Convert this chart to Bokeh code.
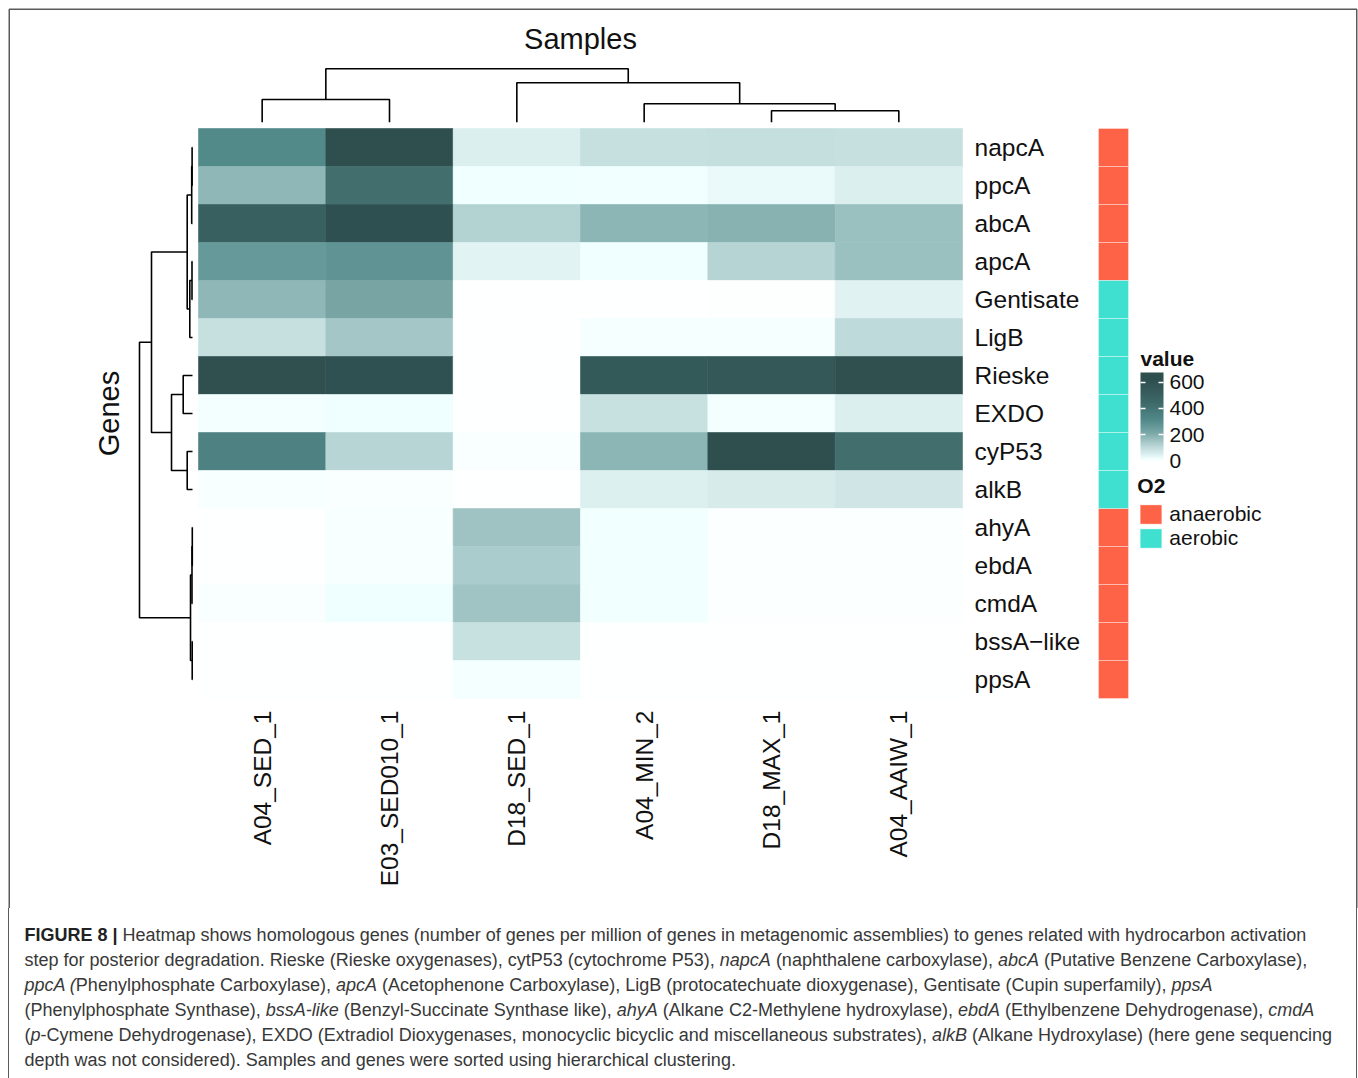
import numpy as np
from bokeh.plotting import figure
from bokeh.models import (Range1d, LinearColorMapper, ColorBar, FixedTicker,
                          Legend, LegendItem, ColumnDataSource, Div, BoxAnnotation)
from bokeh.layouts import column
from bokeh.core.properties import value
from bokeh.embed import file_html
from bokeh.resources import INLINE

# ---------------- data ----------------
samples = ["A04_SED_1", "E03_SED010_1", "D18_SED_1", "A04_MIN_2", "D18_MAX_1", "A04_AAIW_1"]
genes = ["napcA", "ppcA", "abcA", "apcA", "Gentisate", "LigB", "Rieske", "EXDO",
         "cyP53", "alkB", "ahyA", "ebdA", "cmdA", "bssA\u2212like", "ppsA"]
o2 = ["anaerobic"] * 4 + ["aerobic"] * 6 + ["anaerobic"] * 5

# values per gene, in sample order above
napcA = [310, 620, 52, 90, 92, 90]
ppcA = [180, 420, 18, 16, 28, 52]
abcA = [500, 615, 122, 185, 192, 160]
apcA = [260, 275, 42, 17, 118, 160]
Gentisate = [180, 220, 0, 0, 1, 45]
LigB = [90, 147, 0, 7, 7, 102]
Rieske = [610, 605, 0, 550, 555, 612]
EXDO = [12, 20, 0, 88, 12, 52]
cyP53 = [345, 115, 4, 185, 618, 420]
alkB = [5, 4, 0, 50, 60, 72]
ahyA = [0, 6, 155, 16, 2, 2]
ebdA = [0, 6, 135, 16, 2, 2]
cmdA = [4, 20, 152, 16, 2, 2]
bssA_like = [0, 0, 88, 0, 0, 0]
ppsA = [0, 0, 10, 0, 0, 0]
matrix = [napcA, ppcA, abcA, apcA, Gentisate, LigB, Rieske, EXDO, cyP53, alkB,
          ahyA, ebdA, cmdA, bssA_like, ppsA]

# dendrograms: [left, right, merge height]
col_tree = [["A04_SED_1", "E03_SED010_1", 0.85],
            ["D18_SED_1", ["A04_MIN_2", ["D18_MAX_1", "A04_AAIW_1", 0.43], 0.69], 1.48],
            2.00]
row_tree = [[[[["napcA", "ppcA", 0.015], "abcA", 0.03],
              [["apcA", "Gentisate", 0.019], "LigB", 0.102], 0.20],
             [["Rieske", "EXDO", 0.351], ["cyP53", "alkB", 0.20], 0.792],
             1.547],
            [[["ahyA", "ebdA", 0.008], "cmdA", 0.019], ["bssA\u2212like", "ppsA", 0.011], 0.075],
            2.00]

legend_ticks = [0, 200, 400, 600]

# ---------------- style / layout constants ----------------
FONT = "Liberation Sans"
FIG_W, FIG_H, CAP_H = 1358, 908, 170
PX_COL = 764 / 6.0
PX_ROW = 38.0
HX0, HY0 = 198, 128           # heatmap top-left inside figure (px)
NC, NR = len(samples), len(genes)
HY1 = HY0 + NR * PX_ROW       # heatmap bottom

ANCHORS = [(0, "#ffffff"), (8, "#f5ffff"), (18, "#f0ffff"), (30, "#e9f8f8"),
           (52, "#dcefef"), (90, "#c6dfdf"), (120, "#b5d3d3"), (150, "#a2c5c5"),
           (185, "#8cb5b5"), (220, "#78a4a4"), (270, "#629696"), (310, "#528a8a"),
           (345, "#4e8282"), (420, "#426e6e"), (500, "#386060"), (555, "#345858"),
           (620, "#2f4f4f")]
LOW, HIGH, NBIN = -57, 673, 730


def hex2rgb(h):
    return [int(h[i:i + 2], 16) for i in (1, 3, 5)]


av = np.array([a[0] for a in ANCHORS], float)
ac = np.array([hex2rgb(a[1]) for a in ANCHORS], float)
centers = LOW + (np.arange(NBIN) + 0.5) * (HIGH - LOW) / NBIN
cc = np.clip(centers, av[0], av[-1])
rgb = np.stack([np.interp(cc, av, ac[:, i]) for i in range(3)], axis=1)
palette = ["#%02x%02x%02x" % tuple(int(round(c)) for c in row) for row in rgb]
mapper = LinearColorMapper(palette=palette, low=LOW, high=HIGH)

# ---------------- figure ----------------
x_range = Range1d(-HX0 / PX_COL, (FIG_W - HX0) / PX_COL)
y_range = Range1d(-(FIG_H - HY1) / PX_ROW, HY1 / PX_ROW)
p = figure(width=FIG_W, height=FIG_H, x_range=x_range, y_range=y_range,
           output_backend="svg", toolbar_location=None,
           x_axis_location=None, y_axis_location=None, min_border=0)
p.grid.visible = False
p.outline_line_color = None
p.background_fill_color = "white"
p.border_fill_color = "white"

# heatmap cells
xs, ys, vs = [], [], []
for r, g in enumerate(genes):
    for c, s in enumerate(samples):
        xs.append(c + 0.5)
        ys.append(NR - r - 0.5)
        vs.append(matrix[r][c])
heat = ColumnDataSource(dict(x=xs, y=ys, v=vs))
p.rect("x", "y", width=1, height=1, source=heat,
       fill_color={"field": "v", "transform": mapper},
       line_color={"field": "v", "transform": mapper}, line_width=0.6)

# O2 side bar
SIDE_X = (1113 - HX0) / PX_COL
SIDE_W = 30 / PX_COL
side_renderers = {}
for cat, col in [("anaerobic", "#ff6347"), ("aerobic", "#40e0d0")]:
    idx = [i for i, o in enumerate(o2) if o == cat]
    src = ColumnDataSource(dict(x=[SIDE_X] * len(idx), y=[NR - i - 0.5 for i in idx]))
    side_renderers[cat] = p.rect("x", "y", width=SIDE_W, height=1, source=src,
                                 fill_color=col, line_color="white", line_alpha=0.35,
                                 line_width=1)


# dendrograms
def dendro(tree, leaf_pos):
    pos_l, h_l = [], []

    def walk(node):
        if isinstance(node, str):
            return leaf_pos[node], 0.0
        left, right, h = node
        pl, hl = walk(left)
        pr, hr = walk(right)
        pos_l.append([pl, pl, pr, pr])
        h_l.append([hl, h, h, hr])
        return (pl + pr) / 2.0, h

    walk(tree)
    return pos_l, h_l


col_pos = {s: i + 0.5 for i, s in enumerate(samples)}
cpos, ch = dendro(col_tree, col_pos)
C_BASE = NR + 6.3 / PX_ROW
C_K = 26.7 / PX_ROW
p.multi_line([list(a) for a in cpos], [[C_BASE + h * C_K for h in hh] for hh in ch],
             line_color="black", line_width=1.6)

row_pos = {g: NR - i - 0.5 for i, g in enumerate(genes)}
rpos, rh = dendro(row_tree, row_pos)
R_BASE = -6 / PX_COL
R_K = 26.5 / PX_COL
p.multi_line([[R_BASE - h * R_K for h in hh] for hh in rh], [list(a) for a in rpos],
             line_color="black", line_width=1.6)

# labels
p.text(x=[NC + 12 / PX_COL] * NR, y=[NR - i - 0.5 for i in range(NR)], text=genes,
       text_font=value(FONT), text_font_size="24.5px", text_color="#111111",
       text_align="left", text_baseline="middle")
p.text(x=[i + 0.5 for i in range(NC)], y=[-12 / PX_ROW] * NC, text=samples,
       angle=np.pi / 2, text_font=value(FONT), text_font_size="24.5px",
       text_color="#111111", text_align="right", text_baseline="middle")
p.text(x=[NC / 2.0], y=[(HY1 - 38) / PX_ROW], text=["Samples"],
       text_font=value(FONT), text_font_size="29px", text_color="#111111",
       text_align="center", text_baseline="middle")
p.text(x=[-(HX0 - 108) / PX_COL], y=[NR / 2.0], text=["Genes"], angle=np.pi / 2,
       text_font=value(FONT), text_font_size="29px", text_color="#111111",
       text_align="center", text_baseline="middle")

# colour bar legend
p.text(x=[(1140 - HX0) / PX_COL], y=[(HY1 - 358) / PX_ROW], text=["value"],
       text_font=value(FONT), text_font_size="21px", text_font_style="bold",
       text_color="#111111", text_align="left", text_baseline="middle")
cb = ColorBar(color_mapper=mapper, ticker=FixedTicker(ticks=legend_ticks),
              width=23, height=96, location=(1140, FIG_H - 468),
              padding=0, margin=0,
              major_label_text_font=FONT, major_label_text_font_size="21px",
              major_label_text_color="#111111", label_standoff=6,
              major_tick_line_color="white", major_tick_line_width=1.5,
              major_tick_in=5, major_tick_out=0, bar_line_color=None,
              background_fill_alpha=0, border_line_color=None)
p.add_layout(cb)
# left-edge tick marks of the colour bar (invisible bar, ticks only)
cb_ticks = ColorBar(color_mapper=mapper, ticker=FixedTicker(ticks=legend_ticks),
                    width=23, height=96, location=(1145 - 23, FIG_H - 468),
                    padding=0, margin=0, scale_alpha=0.0,
                    major_label_text_alpha=0.0, major_label_text_font_size="21px",
                    label_standoff=6,
                    major_tick_line_color="white", major_tick_line_width=1.5,
                    major_tick_in=5, major_tick_out=0, bar_line_color=None,
                    background_fill_alpha=0, border_line_color=None)
p.add_layout(cb_ticks)

leg = Legend(items=[LegendItem(label="anaerobic", renderers=[side_renderers["anaerobic"]]),
                    LegendItem(label="aerobic", renderers=[side_renderers["aerobic"]])],
             title="O2", location=(1137.3, FIG_H - 550),
             title_text_font=FONT, title_text_font_size="21px",
             title_text_font_style="bold", title_text_color="#111111", title_standoff=4,
             label_text_font=FONT, label_text_font_size="21px", label_text_color="#111111",
             glyph_width=27, glyph_height=24, label_height=24, spacing=0, padding=0,
             margin=0, label_standoff=5, border_line_color=None,
             background_fill_alpha=0)
p.add_layout(leg)

# figure border (left, right, top; bottom continues into caption)
BC = "#5a5a5a"
p.add_layout(BoxAnnotation(left=8.75, right=1356.25, top=FIG_H - 8.75, bottom=-20,
                           left_units="screen", right_units="screen",
                           top_units="screen", bottom_units="screen",
                           fill_alpha=0, line_color=BC, line_alpha=1.0, line_width=1.5))

caption_lines = [
    "<b style='color:#222'>FIGURE 8 |</b> Heatmap shows homologous genes (number of genes per million of genes in metagenomic assemblies) to genes related with hydrocarbon activation",
    "step for posterior degradation. Rieske (Rieske oxygenases), cytP53 (cytochrome P53), <i>napcA</i> (naphthalene carboxylase), <i>abcA</i> (Putative Benzene Carboxylase),",
    "<i>ppcA (</i>Phenylphosphate Carboxylase), <i>apcA</i> (Acetophenone Carboxylase), LigB (protocatechuate dioxygenase), Gentisate (Cupin superfamily), <i>ppsA</i>",
    "(Phenylphosphate Synthase), <i>bssA-like</i> (Benzyl-Succinate Synthase like), <i>ahyA</i> (Alkane C2-Methylene hydroxylase), <i>ebdA</i> (Ethylbenzene Dehydrogenase), <i>cmdA</i>",
    "(<i>p</i>-Cymene Dehydrogenase), EXDO (Extradiol Dioxygenases, monocyclic bicyclic and miscellaneous substrates), <i>alkB</i> (Alkane Hydroxylase) (here gene sequencing",
    "depth was not considered). Samples and genes were sorted using hierarchical clustering.",
]
cap_html = ("<div style=\"box-sizing:border-box;margin-left:8px;width:1349px;height:%dpx;"
            "border-left:1.5px solid %s;border-right:1.5px solid %s;"
            "padding:15px 0 0 15.5px;font-family:'Liberation Sans',sans-serif;"
            "font-size:18px;line-height:25px;color:#383838;white-space:nowrap;\">%s</div>"
            % (CAP_H, BC, BC, "<br>".join(caption_lines)))
cap = Div(text=cap_html, width=FIG_W, height=CAP_H, margin=0)

layout = column(p, cap, spacing=0)
open("out.html", "w").write(file_html(layout, INLINE))
